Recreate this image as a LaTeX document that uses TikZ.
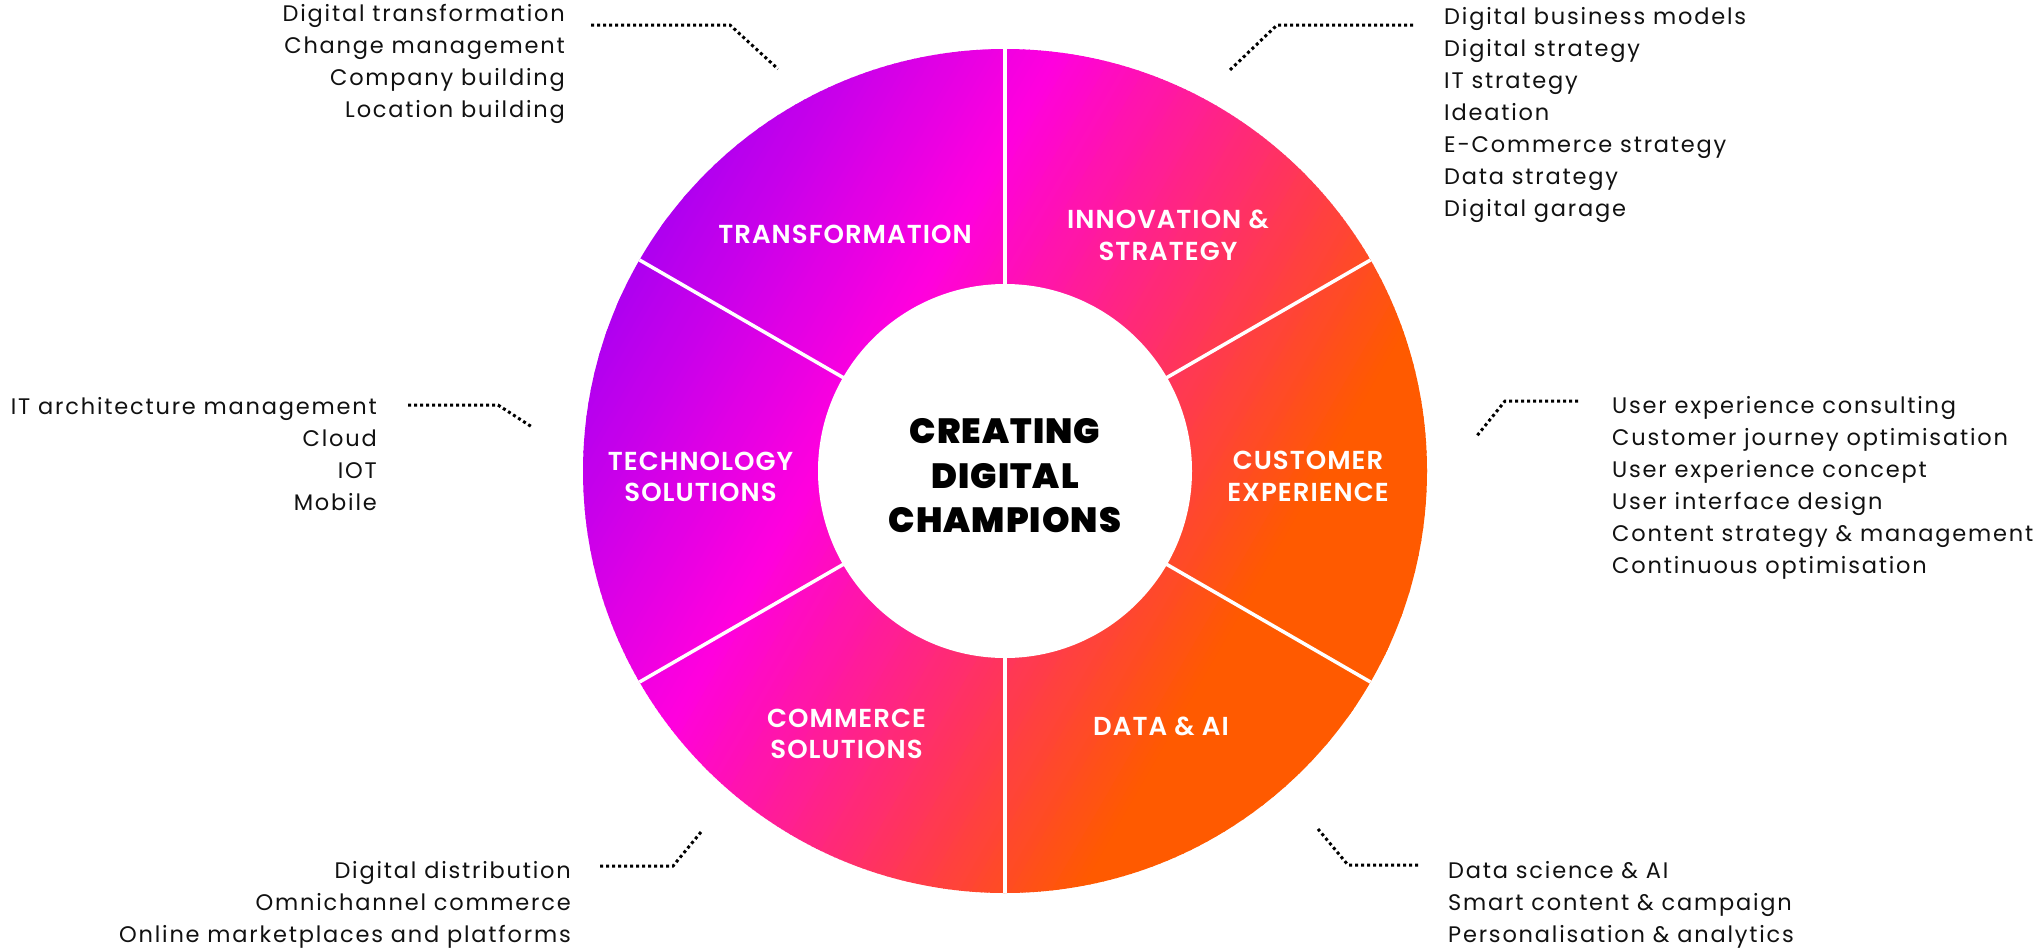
\documentclass[tikz,border=0pt]{standalone}
\usepackage{fontspec}
\usetikzlibrary{calc}
\setmainfont{Poppins}[LetterSpace=8]
\newfontfamily\segfont{Poppins SemiBold}[LetterSpace=4]
\newfontfamily\titlefont{Poppins Black}[LetterSpace=3]
\definecolor{purp}{HTML}{AE00F0}
\definecolor{mag}{HTML}{FF00DE}
\definecolor{orng}{HTML}{FF5A00}
\definecolor{ink}{HTML}{111111}
\begin{document}
\begin{tikzpicture}[x=1pt,y=-1pt,
  body/.style={inner sep=0pt, text=ink, font=\fontsize{22.5}{31.5}\selectfont},
  seglabel/.style={inner sep=0pt, text=white, align=center, font=\segfont\fontsize{26}{31.5}\selectfont},
  titlelabel/.style={inner sep=0pt, text=black, align=center, font=\titlefont\fontsize{35}{44.5}\selectfont},
  leader/.style={draw=black, line width=3pt, dash pattern=on 3pt off 3pt},
  sep/.style={draw=white, line width=3.5pt}]
\useasboundingbox (0,0) rectangle (2043,951);
\coordinate (C) at (1005,471);
% gradient ring
\begin{scope}
  \clip (C) circle[radius=422pt];
  \foreach \i in {0,...,176}{
    \pgfmathsetmacro\pz{-440+5*\i}
    \pgfmathsetmacro\po{\pz+6}
    \pgfmathtruncatemacro\pa{1106+\pz+2.5}
    \pgfmathtruncatemacro\fa{max(0,min(100,(\pa-684)/2.56))}
    \pgfmathtruncatemacro\fb{max(0,min(100,(\pa-940)/4.4))}
    \ifnum\pa<940 \colorlet{stripc}{mag!\fa!purp}\else\colorlet{stripc}{orng!\fb!mag}\fi
    \fill[stripc] ({1235+0.866*\pz},{72.6+0.5*\pz}) -- ({1235+0.866*\po},{72.6+0.5*\po})
      -- ({775+0.866*\po},{869.4+0.5*\po}) -- ({775+0.866*\pz},{869.4+0.5*\pz}) -- cycle;
  }
  \fill[white] (C) circle[radius=187pt];
  \foreach \a in {30,90,150,210,270,330}
    \draw[sep] ($(C)+(\a:185)$) -- ($(C)+(\a:424)$);
\end{scope}
% segment labels
\node[seglabel] (sTrans) at (845,234) {TRANSFORMATION};
\node[seglabel] (sInno) at (1168,235.5) {INNOVATION \&\\STRATEGY};
\node[seglabel] (sCust) at (1308,476.5) {CUSTOMER\\EXPERIENCE};
\node[seglabel] (sTech) at (700.5,477) {TECHNOLOGY\\SOLUTIONS};
\node[seglabel] (sComm) at (846.5,734) {COMMERCE\\SOLUTIONS};
\node[seglabel] (sData) at (1161,726) {DATA \& AI};
\node[titlelabel] (title) at (1005,476) {CREATING\\DIGITAL\\CHAMPIONS};
% text blocks
\foreach \t [count=\k] in {Digital transformation,Change management,Company building,Location building}
  \node[body, anchor=base east] (tr\k) at (565,{21.7+32*(\k-1)}) {\t};
\foreach \t [count=\k] in {Digital business models,Digital strategy,IT strategy,Ideation,E-Commerce strategy,Data strategy,Digital garage}
  \node[body, anchor=base west] (in\k) at (1444,{24+32.1*(\k-1)}) {\t};
\foreach \t [count=\k] in {IT architecture management,Cloud,IOT,Mobile}
  \node[body, anchor=base east] (te\k) at (377,{414+32*(\k-1)}) {\t};
\foreach \t [count=\k] in {User experience consulting,Customer journey optimisation,User experience concept,User interface design,Content strategy \& management,Continuous optimisation}
  \node[body, anchor=base west] (cu\k) at (1612,{413+32*(\k-1)}) {\t};
\foreach \t [count=\k] in {Digital distribution,Omnichannel commerce,Online marketplaces and platforms}
  \node[body, anchor=base east] (co\k) at (571,{878+32*(\k-1)}) {\t};
\foreach \t [count=\k] in {Data science \& AI,Smart content \& campaign,Personalisation \& analytics}
  \node[body, anchor=base west] (da\k) at (1448,{878+32*(\k-1)}) {\t};
% leaders
\coordinate (l1a) at (591,25);   \coordinate (l1b) at (730,25);   \coordinate (l1c) at (778,69);
\coordinate (l2a) at (1413,25);  \coordinate (l2b) at (1277,25);  \coordinate (l2c) at (1230,70);
\coordinate (l3a) at (408,405);  \coordinate (l3b) at (498,405);  \coordinate (l3c) at (532,427);
\coordinate (l4a) at (1578,401); \coordinate (l4b) at (1505,401); \coordinate (l4c) at (1476,437);
\coordinate (l5a) at (600,866);  \coordinate (l5b) at (673,866);  \coordinate (l5c) at (701,832);
\coordinate (l6a) at (1418,865); \coordinate (l6b) at (1348,865); \coordinate (l6c) at (1318,829);
\draw[leader] (l1a) -- (l1b) -- (l1c);
\draw[leader] (l2a) -- (l2b) -- (l2c);
\draw[leader] (l3a) -- (l3b) -- (l3c);
\draw[leader] (l4a) -- (l4b) -- (l4c);
\draw[leader] (l5a) -- (l5b) -- (l5c);
\draw[leader] (l6a) -- (l6b) -- (l6c);
\end{tikzpicture}
\end{document}
